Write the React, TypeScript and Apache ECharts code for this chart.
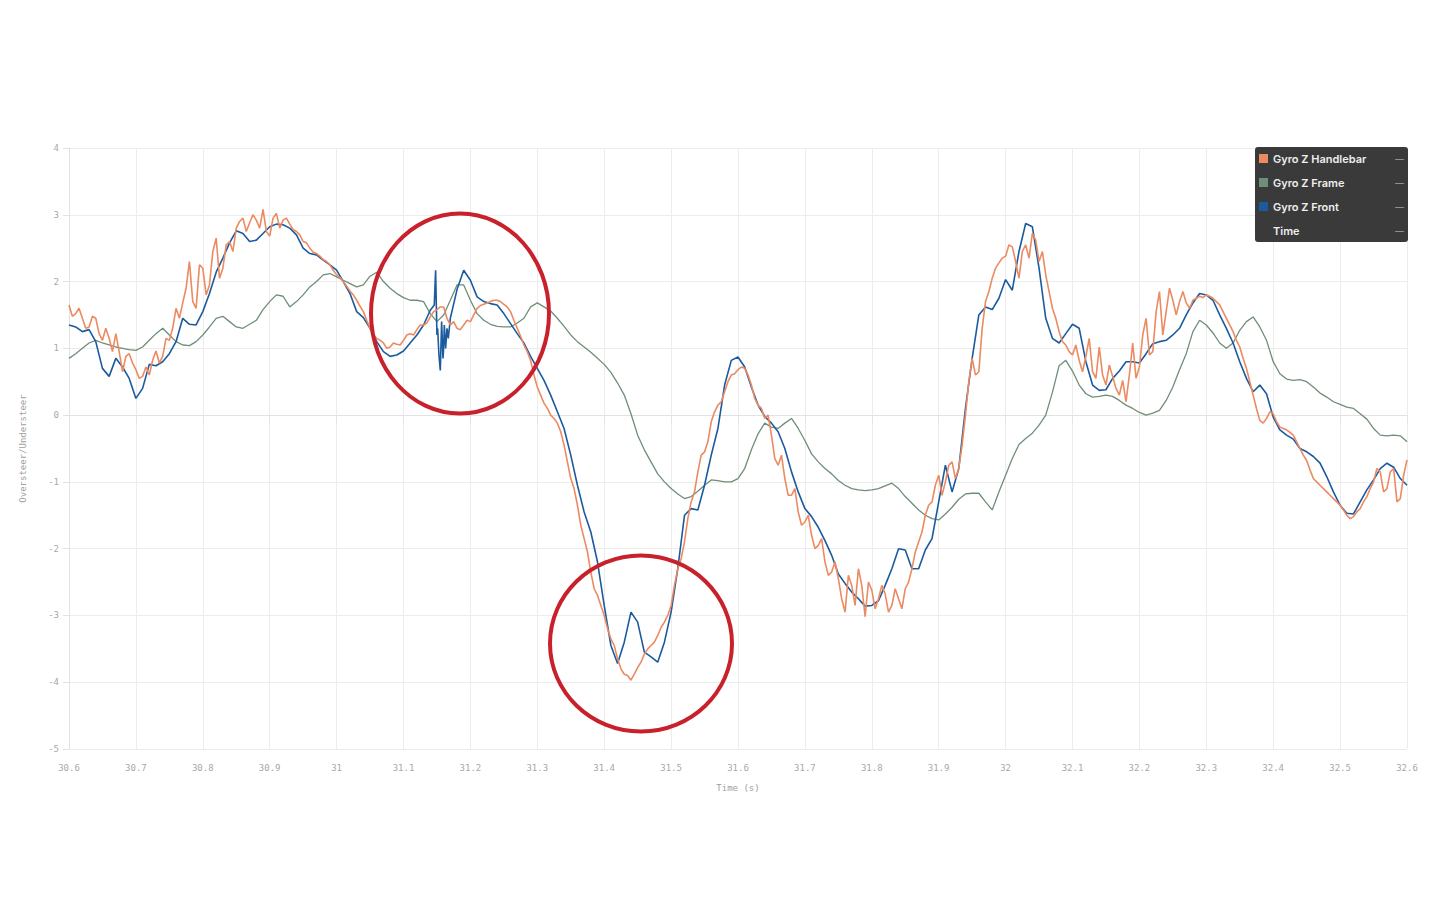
import React, { useEffect, useRef } from "react";
import * as echarts from "echarts";

// Sampling grid: 30.60 s to 32.60 s, every 0.01 s
const startTime = 30.6;
const sampleStep = 0.01;

const legendNames = ["Gyro Z Handlebar", "Gyro Z Frame", "Gyro Z Front", "Time"];

const handlebar = [
  1.65, 1.52, 1.45, 1.32, 1.45, 1.12, 1.15, 1.22, 0.65, 0.92,
  0.68, 0.58, 0.6, 0.96, 0.88, 1.12, 1.6, 1.68, 2.3, 1.6,
  2.2, 1.95, 2.65, 2.2, 2.6, 2.8, 2.95, 2.88, 2.92, 3.08,
  2.68, 3.02, 2.92, 2.86, 2.75, 2.6, 2.5, 2.42, 2.33, 2.25,
  2.1, 2.0, 1.86, 1.72, 1.55, 1.3, 1.15, 1.08, 1.02, 1.06,
  1.12, 1.22, 1.28, 1.35, 1.47, 1.58, 1.62, 1.35, 1.3, 1.35,
  1.4, 1.6, 1.66, 1.7, 1.72, 1.66, 1.55, 1.3, 1.05, 0.82,
  0.42, 0.18, 0.0, -0.12, -0.45, -0.95, -1.35, -1.85, -2.35, -2.7,
  -3.0, -3.35, -3.65, -3.88, -3.97, -3.78, -3.58, -3.45, -3.3, -3.1,
  -2.85, -2.3, -1.9, -1.3, -0.85, -0.55, -0.1, 0.15, 0.35, 0.6,
  0.68, 0.7, 0.45, 0.15, -0.05, -0.3, -0.75, -0.95, -1.2, -1.45,
  -1.6, -1.8, -1.95, -2.2, -2.35, -2.45, -2.95, -2.55, -2.3, -3.02,
  -2.62, -2.75, -2.68, -2.85, -2.75, -2.6, -2.3, -1.9, -1.5, -1.3,
  -0.9, -1.0, -0.7, -0.8, 0.0, 0.85, 0.65, 1.7, 2.05, 2.28,
  2.38, 2.52, 2.05, 2.55, 2.72, 2.3, 2.1, 1.6, 1.25, 1.05,
  0.9, 0.82, 0.88, 0.65, 1.02, 0.45, 0.58, 0.3, 0.2, 1.08,
  0.72, 1.45, 0.95, 1.85, 1.55, 1.72, 1.7, 1.68, 1.72, 1.78,
  1.8, 1.75, 1.65, 1.45, 1.25, 1.02, 0.7, 0.3, -0.08, -0.05,
  0.02, -0.18, -0.22, -0.3, -0.5, -0.68, -0.95, -1.05, -1.15, -1.25,
  -1.35, -1.5, -1.52, -1.4, -1.22, -1.0, -0.85, -1.1, -0.8, -1.25,
  -0.67,
];

// Handlebar readings half-way between the grid samples (30.605 s, 30.615 s, ...)
const handlebarMid = [
  1.48, 1.6, 1.3, 1.48, 1.22, 1.3, 0.95, 0.95, 0.88, 0.78,
  0.55, 0.72, 0.82, 0.78, 1.15, 1.3, 1.45, 1.9, 1.7, 2.25,
  1.8, 2.45, 2.05, 2.55, 2.45, 2.9, 2.75, 3.0, 2.8, 2.75,
  2.95, 2.8, 2.95, 2.78, 2.7, 2.58, 2.44, 2.38, 2.3, 2.17,
  2.06, 1.93, 1.8, 1.63, 1.42, 1.2, 1.12, 1.0, 1.08, 1.05,
  1.2, 1.2, 1.35, 1.38, 1.55, 1.62, 1.45, 1.4, 1.28, 1.42,
  1.5, 1.64, 1.68, 1.72, 1.7, 1.62, 1.42, 1.18, 0.95, 0.6,
  0.3, 0.1, -0.05, -0.25, -0.7, -1.1, -1.65, -2.05, -2.6, -2.85,
  -3.2, -3.45, -3.8, -3.9, -3.88, -3.7, -3.5, -3.4, -3.18, -3.0,
  -2.55, -2.15, -1.55, -1.15, -0.6, -0.4, 0.05, 0.2, 0.5, 0.62,
  0.72, 0.6, 0.25, 0.1, 0.0, -0.65, -0.6, -1.2, -1.1, -1.65,
  -1.5, -2.0, -1.85, -2.4, -2.2, -2.75, -2.4, -2.85, -2.55, -2.5,
  -2.9, -2.55, -2.95, -2.6, -2.9, -2.5, -2.05, -1.75, -1.35, -1.05,
  -1.2, -0.75, -0.95, -0.45, 0.5, 0.6, 1.3, 1.85, 2.2, 2.35,
  2.55, 2.3, 2.45, 2.35, 2.62, 2.45, 1.85, 1.45, 1.1, 0.95,
  1.05, 0.65, 1.15, 0.55, 0.6, 0.75, 0.4, 0.52, 0.6, 0.55,
  1.2, 0.9, 1.55, 1.2, 1.9, 1.5, 1.85, 1.6, 1.75, 1.76,
  1.78, 1.7, 1.55, 1.35, 1.12, 0.85, 0.5, 0.1, -0.12, 0.05,
  -0.1, -0.2, -0.26, -0.4, -0.6, -0.82, -1.0, -1.1, -1.2, -1.3,
  -1.42, -1.55, -1.45, -1.3, -1.1, -0.8, -1.15, -0.85, -1.3, -0.9,
];

const frame = [
  0.85, 0.92, 1.0, 1.08, 1.12, 1.08, 1.05, 1.02, 1.0, 0.98,
  0.97, 1.02, 1.12, 1.22, 1.3, 1.2, 1.1, 1.05, 1.04, 1.1,
  1.2, 1.32, 1.45, 1.48, 1.4, 1.32, 1.3, 1.36, 1.42, 1.58,
  1.7, 1.8, 1.78, 1.62, 1.7, 1.8, 1.92, 2.0, 2.1, 2.12,
  2.07, 2.02, 1.97, 1.92, 1.95, 2.08, 2.14, 2.0, 1.9, 1.82,
  1.76, 1.72, 1.72, 1.7, 1.52, 1.4, 1.5, 1.72, 1.95, 1.95,
  1.72, 1.52, 1.42, 1.36, 1.33, 1.32, 1.32, 1.38, 1.45, 1.62,
  1.68, 1.62, 1.56, 1.45, 1.33, 1.2, 1.1, 1.02, 0.94, 0.85,
  0.76, 0.64, 0.48, 0.3, 0.02, -0.3, -0.52, -0.7, -0.88, -1.0,
  -1.1, -1.18, -1.25, -1.22, -1.14, -1.05, -0.97, -0.98, -1.0, -1.0,
  -0.95, -0.8, -0.52, -0.28, -0.12, -0.18, -0.2, -0.12, -0.05, -0.2,
  -0.38, -0.58, -0.7, -0.8, -0.88, -0.98, -1.05, -1.1, -1.12, -1.13,
  -1.12, -1.1, -1.06, -1.02, -1.1, -1.22, -1.32, -1.42, -1.5, -1.55,
  -1.57, -1.48, -1.38, -1.26, -1.18, -1.17, -1.17, -1.3, -1.42, -1.15,
  -0.9, -0.65, -0.44, -0.35, -0.27, -0.15, 0.0, 0.34, 0.74, 0.82,
  0.66, 0.45, 0.32, 0.27, 0.28, 0.3, 0.28, 0.22, 0.15, 0.1,
  0.04, 0.0, 0.03, 0.07, 0.22, 0.42, 0.68, 0.92, 1.25, 1.42,
  1.35, 1.23, 1.08, 1.0, 1.08, 1.27, 1.4, 1.47, 1.32, 1.12,
  0.8, 0.62, 0.54, 0.52, 0.53, 0.5, 0.42, 0.33, 0.27, 0.2,
  0.16, 0.12, 0.1, 0.02, -0.06, -0.2, -0.3, -0.31, -0.3, -0.31,
  -0.4,
];

const front = [
  1.35, 1.32, 1.25, 1.28, 1.1, 0.7, 0.58, 0.85, 0.72, 0.55,
  0.25, 0.4, 0.76, 0.74, 0.8, 0.92, 1.1, 1.45, 1.36, 1.35,
  1.55, 1.82, 2.14, 2.35, 2.58, 2.76, 2.72, 2.6, 2.62, 2.72,
  2.82, 2.86, 2.85, 2.8, 2.7, 2.5, 2.42, 2.4, 2.32, 2.25,
  2.17, 2.0, 1.82, 1.55, 1.46, 1.3, 1.1, 0.95, 0.88, 0.9,
  0.96, 1.08, 1.2, 1.35, 1.57, 1.2, 1.0, 1.45, 1.88, 2.17,
  2.02, 1.77, 1.7, 1.67, 1.65, 1.52, 1.37, 1.22, 1.08, 0.88,
  0.7, 0.52, 0.3, 0.05, -0.2, -0.6, -1.05, -1.45, -1.75, -2.2,
  -2.85, -3.45, -3.72, -3.4, -2.95, -3.1, -3.55, -3.62, -3.7, -3.4,
  -2.95, -2.3, -1.5, -1.4, -1.42, -1.05, -0.6, -0.2, 0.45, 0.82,
  0.87, 0.72, 0.42, 0.15, -0.02, -0.12, -0.25, -0.5, -0.85, -1.15,
  -1.4, -1.52, -1.68, -1.88, -2.1, -2.38, -2.52, -2.65, -2.75, -2.86,
  -2.85, -2.78, -2.55, -2.3, -2.0, -2.02, -2.3, -2.3, -2.02, -1.85,
  -1.3, -0.75, -1.15, -0.8, 0.1, 0.85, 1.5, 1.62, 1.58, 1.75,
  2.03, 1.87, 2.45, 2.87, 2.82, 2.2, 1.45, 1.15, 1.08, 1.22,
  1.36, 1.3, 0.8, 0.45, 0.37, 0.38, 0.55, 0.66, 0.8, 0.8,
  0.78, 0.92, 1.07, 1.1, 1.12, 1.2, 1.3, 1.5, 1.68, 1.82,
  1.8, 1.72, 1.5, 1.3, 1.08, 0.8, 0.55, 0.35, 0.45, 0.32,
  -0.03, -0.22, -0.3, -0.36, -0.5, -0.55, -0.62, -0.72, -0.92, -1.15,
  -1.35, -1.47, -1.48, -1.3, -1.12, -0.97, -0.8, -0.72, -0.78, -0.95,
  -1.05,
];

// Extra fine samples of the Front sensor around the spike near 31.15 s
const frontSpikeTimes = [31.146, 31.148, 31.151, 31.153, 31.155, 31.157, 31.159, 31.161, 31.163, 31.165, 31.167];
const frontSpikeValues = [1.65, 2.17, 1.3, 0.9, 0.67, 1.4, 0.85, 1.35, 1.0, 1.3, 1.15];

const xTickMin = 30.6;
const xTickMax = 32.6;
const yTickMin = -5;
const yTickMax = 4;

const gridTime = (i: number, offset = 0) =>
  Math.round((startTime + offset + i * sampleStep) * 10000) / 10000;

const toPairs = (vals: number[], offset = 0) => vals.map((v, i) => [gridTime(i, offset), v]);

export default function App() {
  const ref = useRef<HTMLDivElement>(null);

  useEffect(() => {
    if (!ref.current) return;
    const chart = echarts.init(ref.current, undefined, { renderer: "svg" });

    const frontPairs = toPairs(front).concat(
      frontSpikeTimes.map((t, i) => [t, frontSpikeValues[i]])
    );
    frontPairs.sort((a, b) => a[0] - b[0]);

    const handlebarPairs = toPairs(handlebar).concat(toPairs(handlebarMid, sampleStep / 2));
    handlebarPairs.sort((a, b) => a[0] - b[0]);

    const axisLabelStyle = {
      color: "#a8a8a8",
      fontSize: 9,
      fontFamily: "DejaVu Sans Mono",
    };

    chart.setOption({
      animation: false,
      backgroundColor: "#ffffff",
      grid: { left: 69, right: 32, top: 148, bottom: 165, containLabel: false },
      xAxis: {
        type: "value",
        min: xTickMin,
        max: xTickMax,
        interval: 0.1,
        name: "Time (s)",
        nameLocation: "middle",
        nameGap: 34,
        nameTextStyle: { color: "#a0a0a0", fontSize: 9, fontFamily: "DejaVu Sans Mono" },
        axisLine: { show: true, lineStyle: { color: "#e2e2e2" } },
        axisTick: { show: true, length: 8, lineStyle: { color: "#e2e2e2" } },
        axisLabel: {
          ...axisLabelStyle,
          margin: 14,
          formatter: (v: number) => String(Math.round(v * 10) / 10),
        },
        splitLine: { show: true, lineStyle: { color: "#ececec", width: 1 } },
      },
      yAxis: {
        type: "value",
        min: yTickMin,
        max: yTickMax,
        interval: 1,
        name: "Oversteer/Understeer",
        nameLocation: "middle",
        nameGap: 42,
        nameRotate: 90,
        nameTextStyle: { color: "#a0a0a0", fontSize: 9, fontFamily: "DejaVu Sans Mono" },
        axisLine: { show: true, lineStyle: { color: "#e2e2e2" } },
        axisTick: { show: true, length: 6, lineStyle: { color: "#e2e2e2" } },
        axisLabel: { ...axisLabelStyle, margin: 10 },
        splitLine: { show: true, lineStyle: { color: "#ececec", width: 1 } },
      },
      legend: {
        show: true,
        orient: "vertical",
        left: 1255,
        top: 147,
        backgroundColor: "#3a3a3a",
        borderRadius: 3,
        padding: [6, 4, 6, 4],
        itemGap: 13,
        itemWidth: 9,
        itemHeight: 9,
        icon: "rect",
        selectedMode: false,
        data: legendNames,
        formatter: (name: string) => `{n|${name}}{d|—}`,
        textStyle: {
          color: "#eeeeee",
          rich: {
            n: {
              width: 122,
              fontSize: 11,
              fontWeight: 600,
              color: "#eeeeee",
              fontFamily: "Inter",
              lineHeight: 14,
            },
            d: { fontSize: 9, color: "#cccccc", lineHeight: 14 },
          },
        },
      },
      series: [
        {
          name: legendNames[1],
          type: "line",
          data: toPairs(frame),
          showSymbol: false,
          symbol: "none",
          color: "#6f8e77",
          lineStyle: { width: 1.3, color: "#6f8e77" },
          z: 2,
        },
        {
          name: legendNames[2],
          type: "line",
          data: frontPairs,
          showSymbol: false,
          symbol: "none",
          color: "#1c5a9e",
          lineStyle: { width: 1.6, color: "#1c5a9e" },
          z: 3,
        },
        {
          name: legendNames[0],
          type: "line",
          data: handlebarPairs,
          showSymbol: false,
          symbol: "none",
          color: "#ec8a62",
          lineStyle: { width: 1.6, color: "#ec8a62" },
          z: 3,
        },
        {
          name: legendNames[3],
          type: "line",
          data: [],
          showSymbol: false,
          color: "rgba(0,0,0,0)",
          lineStyle: { color: "rgba(0,0,0,0)" },
        },
      ],
      graphic: [
        {
          type: "ellipse",
          z: 100,
          shape: { cx: 460, cy: 313.5, rx: 89, ry: 100 },
          style: { fill: "none", stroke: "#c8212b", lineWidth: 4 },
        },
        {
          type: "ellipse",
          z: 100,
          shape: { cx: 641, cy: 643.5, rx: 91, ry: 88 },
          style: { fill: "none", stroke: "#c8212b", lineWidth: 4 },
        },
      ],
    });

    return () => chart.dispose();
  }, []);

  return (
    <div
      ref={ref}
      style={{ position: "fixed", left: 0, top: 0, width: 1439, height: 914 }}
    />
  );
}
